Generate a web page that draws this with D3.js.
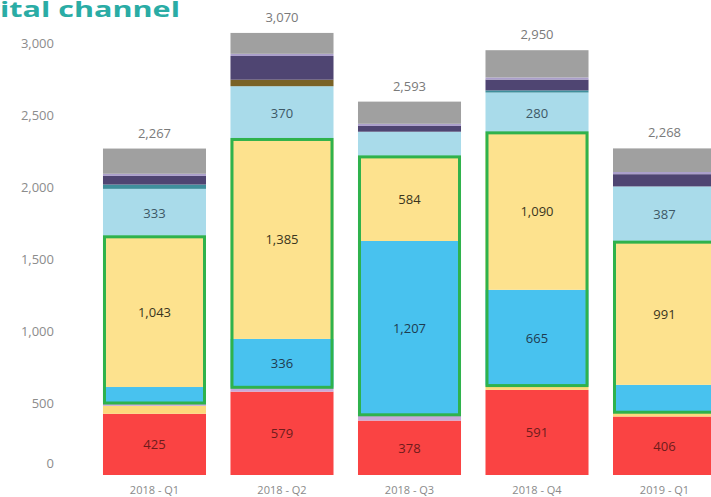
<!DOCTYPE html>
<html>
<head>
<meta charset="utf-8">
<script src="https://cdn.jsdelivr.net/npm/d3@7"></script>
<style>
  body { margin: 0; background: #fff; }
  svg { display: block; font-family: "Open Sans", "DejaVu Sans", sans-serif; }
</style>
</head>
<body>
<svg id="chart" width="711" height="497"></svg>
<script>
const quarters = ["2018 - Q1", "2018 - Q2", "2018 - Q3", "2018 - Q4", "2019 - Q1"];
const yTicks = [0, 500, 1000, 1500, 2000, 2500, 3000];

// series, bottom to top
const seriesNames = ["red", "paleYellow", "lavender", "blue", "yellow", "lightBlue", "teal", "brown", "purple", "lilac", "grey"];
const seriesColors = ["#fa4343", "#fdd97c", "#c8a9da", "#48c2ef", "#fde28e", "#a9dbea", "#3f8f9c", "#7a6226", "#4f4572", "#ab9fcb", "#a0a0a0"];

const red        = [425, 579, 378, 591, 406];
const paleYellow = [55, 0, 0, 30, 30];
const lavender   = [20, 30, 40, 0, 0];
const blue       = [111, 336, 1207, 665, 190];
const yellow     = [1043, 1385, 584, 1090, 991];
const lightBlue  = [333, 370, 175, 280, 387];
const teal       = [30, 0, 0, 15, 0];
const brown      = [0, 45, 0, 0, 0];
const purple     = [60, 165, 40, 75, 85];
const lilac      = [15, 15, 15, 15, 15];
const grey       = [175, 145, 154, 189, 164];
const totals     = [2267, 3070, 2593, 2950, 2268];

// the green frames go round these series
const boxedSeries = ["blue", "yellow"];

const values = { red, paleYellow, lavender, blue, yellow, lightBlue, teal, brown, purple, lilac, grey };

const rows = quarters.map((q, i) => {
    const r = { quarter: q };
    seriesNames.forEach(s => r[s] = values[s][i]);
    return r;
});

const stacked = d3.stack().keys(seriesNames)(rows);

const svg = d3.select("#chart");

const x = d3.scaleBand().domain(quarters).range([78.5, 740.5]).padding(0.192);
const y = d3.scaleLinear().domain([0, 3000]).range([475, 43]);

const fmt = d3.format(",");

// title, cut off at the left edge as in the source ("Dig" falls outside)
const titleG = svg.append("g");
const title = titleG.append("text")
    .attr("y", 17)
    .style("font-size", "22px")
    .style("font-weight", "700")
    .style("fill", "#2aaca5")
    .text("Digital channel");
const tNode = title.node();
const cut = tNode.getSubStringLength(0, 3);
const rest = tNode.getSubStringLength(3, 12);
const sx = 180 / rest;
title.attr("x", -cut);
titleG.attr("transform", `scale(${sx},1)`);

// y axis labels
const yAxis = svg.append("g")
    .attr("transform", "translate(54,0)")
    .call(d3.axisLeft(y).tickValues(yTicks).tickFormat(fmt).tickSize(0).tickPadding(0));
yAxis.select(".domain").remove();
yAxis.selectAll("text")
    .style("font-family", "'Open Sans', sans-serif")
    .style("font-size", "13px")
    .style("fill", "#8c8c8c");
yAxis.selectAll(".tick").filter(d => d === 0).select("text").attr("y", -12);

// stacked bars
const layers = svg.append("g").selectAll("g")
    .data(stacked)
    .join("g")
    .attr("fill", (d, i) => seriesColors[i]);

layers.selectAll("rect")
    .data(d => d.map(v => ({ v, key: d.key })))
    .join("rect")
    .attr("x", d => x(d.v.data.quarter))
    .attr("y", d => y(d.v[1]))
    .attr("width", x.bandwidth())
    .attr("height", d => Math.max(0, y(d.v[0]) - y(d.v[1])));

// segment value labels
const labelColor = { red: "#6e1c1c", blue: "#1f3b4f", yellow: "#3a3520", lightBlue: "#3d5866" };
layers.selectAll("text")
    .data(d => d.map(v => ({ v, key: d.key, val: v.data[d.key] })).filter(d => d.val >= 250))
    .join("text")
    .attr("x", d => x(d.v.data.quarter) + x.bandwidth() / 2)
    .attr("y", d => (y(d.v[0]) + y(d.v[1])) / 2 + 5)
    .attr("text-anchor", "middle")
    .style("font-size", "13px")
    .style("fill", d => labelColor[d.key] || "#333")
    .text(d => fmt(d.val));

// green frames
const lo = stacked.find(s => s.key === boxedSeries[0]);
const hi = stacked.find(s => s.key === boxedSeries[boxedSeries.length - 1]);
svg.append("g").selectAll("rect")
    .data(quarters.map((q, i) => ({ q, y0: lo[i][0], y1: hi[i][1] })))
    .join("rect")
    .attr("x", d => x(d.q) + 1.5)
    .attr("y", d => y(d.y1))
    .attr("width", x.bandwidth() - 3)
    .attr("height", d => y(d.y0) - y(d.y1))
    .attr("fill", "none")
    .attr("stroke", "#2fb24c")
    .attr("stroke-width", 3);

// totals
svg.append("g").selectAll("text")
    .data(quarters.map((q, i) => ({ q, t: totals[i] })))
    .join("text")
    .attr("x", d => x(d.q) + x.bandwidth() / 2)
    .attr("y", d => y(d.t) - 11)
    .attr("text-anchor", "middle")
    .style("font-size", "13px")
    .style("fill", "#7a7a7a")
    .text(d => fmt(d.t));

// x axis labels
svg.append("g").selectAll("text")
    .data(quarters)
    .join("text")
    .attr("x", d => x(d) + x.bandwidth() / 2)
    .attr("y", 494)
    .attr("text-anchor", "middle")
    .style("font-size", "11px")
    .style("fill", "#8a8a8a")
    .text(d => d);
</script>
</body>
</html>
